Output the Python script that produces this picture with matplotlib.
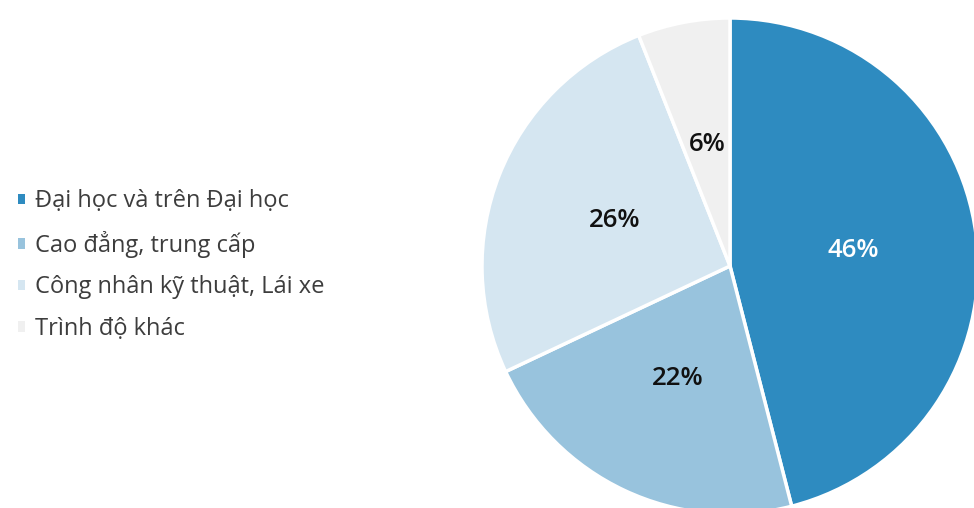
import matplotlib.pyplot as plt

# share of workers by education level
labels = ['Đại học và trên Đại học', 'Cao đẳng, trung cấp',
          'Công nhân kỹ thuật, Lái xe', 'Trình độ khác']
shares = [46, 22, 26, 6]
colors = ['#2E8BC0', '#98C3DD', '#D5E6F1', '#F0F0F0']
pct_colors = ['white', '#111111', '#111111', '#111111']

plt.rcParams['font.family'] = ['Open Sans', 'DejaVu Sans']

fig = plt.figure(figsize=(9.74, 5.08), dpi=100)
fig.patch.set_facecolor('white')

# pie axes: centre ~(730, 266) px, radius ~248 px
W, H = 974.0, 508.0
cx, cy, r = 730, 266, 248
ax = fig.add_axes([(cx - r) / W, (H - cy - r) / H, 2 * r / W, 2 * r / H])

wedges, texts, autotexts = ax.pie(
    shares, colors=colors, startangle=90, counterclock=False, radius=1,
    autopct='%d%%', pctdistance=0.5,
    wedgeprops={'edgecolor': 'white', 'linewidth': 2.5},
    textprops={'fontsize': 18.5, 'fontweight': 'semibold'})
for t, c in zip(autotexts, pct_colors):
    t.set_color(c)
ax.set_xlim(-1, 1)
ax.set_ylim(-1, 1)
ax.set_aspect('equal')
ax.axis('off')

leg = fig.legend(wedges, labels, loc='center left', bbox_to_anchor=(0.0185, 0.478),
                 frameon=False, fontsize=17, handlelength=0.3, handleheight=0.3,
                 handletextpad=0.42, labelspacing=0.74, borderpad=0, borderaxespad=0)
for t in leg.get_texts():
    t.set_color('#3d3d3d')
    t.set_fontweight('medium')
for h in leg.legend_handles:
    h.set_edgecolor('none')

fig.savefig('out.png', dpi=100)
